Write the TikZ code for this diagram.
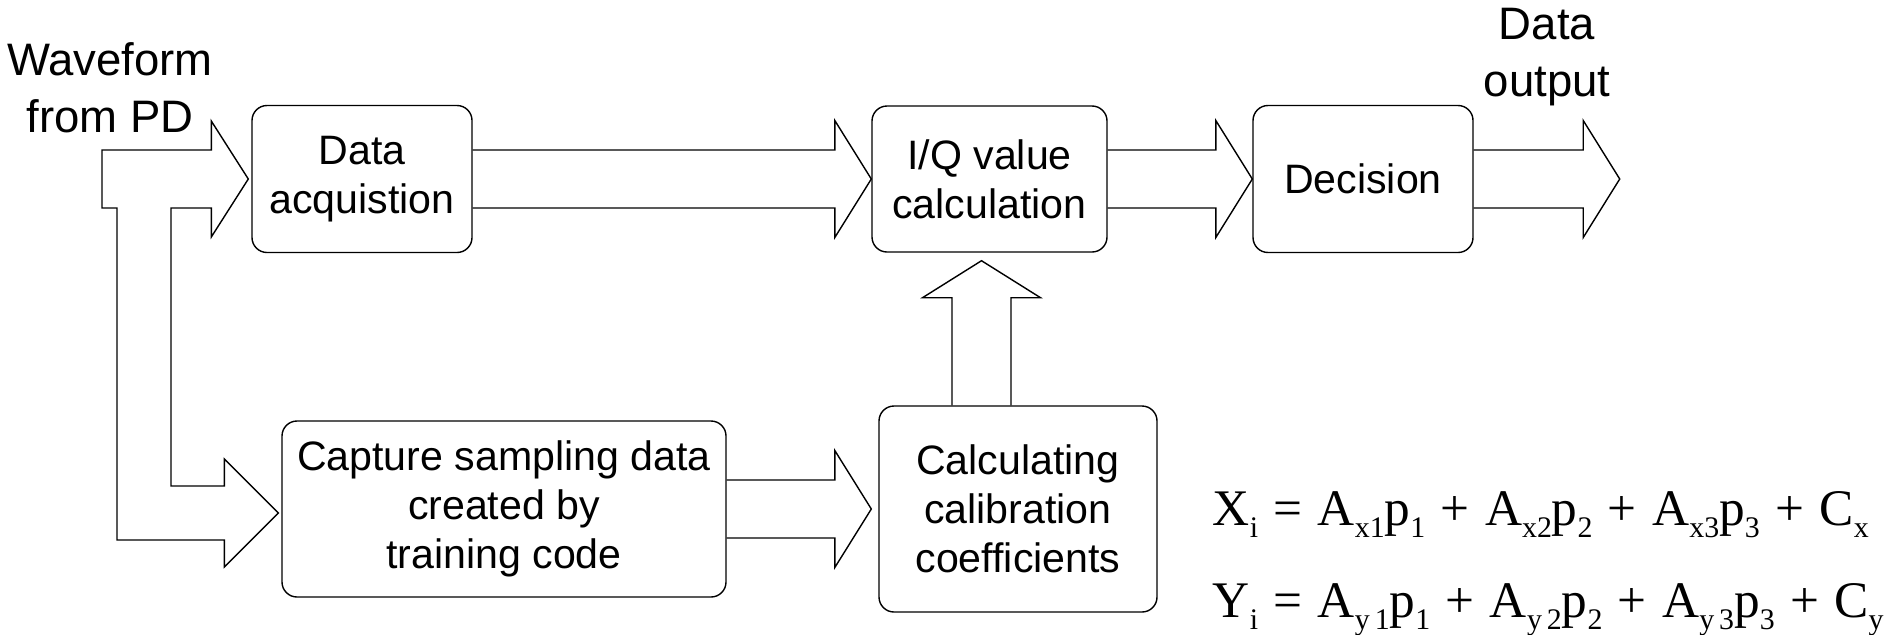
\documentclass[tikz,border=0pt]{standalone}
\usepackage{fontspec}
\setmainfont{Liberation Sans}
\newfontfamily\eqfont{Liberation Serif}
\usetikzlibrary{
	calc,
	positioning
}
\newcommand\sbs[1]{\raisebox{-0.25em}{\fontsize{8.5}{8.5}\selectfont #1}}
\newcommand\op[1]{\hspace{0.3em}#1\hspace{0.3em}}
\tikzset{
	line width=0.6pt,
	block/.style={
		draw,
		rounded corners=0.15cm,
		align=center,
		inner sep=0pt,
		font=\fontsize{11.7}{13.9}\selectfont
	},
	iotext/.style={
		align=center,
		inner sep=0pt,
		font=\fontsize{12.95}{16.2}\selectfont
	},
	eq/.style={
		inner sep=0pt,
		anchor=base west,
		font=\eqfont\fontsize{14.6}{14.6}\selectfont
	},
	fat/.style={
		to path={let \p1=(\tikztostart), \p2=(\tikztotarget) in
			(\x1,\y1+0.29cm) -- (\x2-0.365cm,\y1+0.29cm) -- (\x2-0.365cm,\y1+0.585cm)
			-- (\x2,\y1) -- (\x2-0.365cm,\y1-0.585cm) -- (\x2-0.365cm,\y1-0.29cm) -- (\x1,\y1-0.29cm)}
	},
	fatup/.style={
		to path={let \p1=(\tikztostart), \p2=(\tikztotarget) in
			(\x1-0.295cm,\y1) -- (\x1-0.295cm,\y2-0.37cm) -- (\x1-0.59cm,\y2-0.37cm)
			-- (\x1,\y2) -- (\x1+0.59cm,\y2-0.37cm) -- (\x1+0.295cm,\y2-0.37cm) -- (\x1+0.295cm,\y1)}
	}
}

\begin{document}
\begin{tikzpicture}
	\useasboundingbox (0,0) rectangle (18.86,6.34);
	\draw
		node[block,minimum width=2.2cm,minimum height=1.47cm]  (acq) at (3.62,4.55)  {Data\\acquistion}
		node[block,minimum width=2.35cm,minimum height=1.46cm] (iq)  at (9.895,4.55) {I/Q value\\calculation}
		node[block,minimum width=2.2cm,minimum height=1.47cm]  (dec) at (13.63,4.55) {Decision}
		node[block,minimum width=4.44cm,minimum height=1.76cm] (cap) at (5.04,1.25)  {Capture sampling data\\created by\\training code}
		node[block,minimum width=2.78cm,minimum height=2.06cm] (cal) at (10.18,1.25) {Calculating\\calibration\\coefficients}
		
		(acq.east) edge[fat] (iq.west)
		(iq.east)  edge[fat] (dec.west)
		(dec.east) edge[fat] ($(dec.east)+(1.46cm,0)$)
		(cap.east) edge[fat] ([xshift=-0.07cm]cal.west)
		([xshift=-0.365cm]cal.north) edge[fatup] ([yshift=-0.08cm]iq.south)
	;
	
	% input from the photodiode, split into both paths
	\coordinate (pd) at (1.02,4.55);
	\draw let \p0=(pd), \p1=([xshift=-0.03cm]acq.west), \p2=([xshift=-0.03cm,yshift=-0.04cm]cap.west) in
		(\x0,\y1+0.29cm) -- (\x1-0.37cm,\y1+0.29cm) -- (\x1-0.37cm,\y1+0.58cm) -- (\p1)
		-- (\x1-0.37cm,\y1-0.58cm) -- (\x1-0.37cm,\y1-0.29cm) -- (\x0+0.69cm,\y1-0.29cm)
		-- (\x0+0.69cm,\y2+0.27cm) -- (\x2-0.54cm,\y2+0.27cm) -- (\x2-0.54cm,\y2+0.54cm) -- (\p2)
		-- (\x2-0.54cm,\y2-0.54cm) -- (\x2-0.54cm,\y2-0.27cm) -- (\x0+0.15cm,\y2-0.27cm)
		-- (\x0+0.15cm,\y1-0.29cm) -- (\x0,\y1-0.29cm) -- cycle;
	
	\node[iotext] (pdtext)  at (1.10,5.46)  {Waveform\\from PD};
	\node[iotext] (outtext) at (15.47,5.77) {Data\\output};
	
	\node[eq] (eqx) at (12.12,1.09) {X\sbs{i}\op{=}A\sbs{x1}p\sbs{1}\op{+}A\sbs{x2}p\sbs{2}\op{+}A\sbs{x3}p\sbs{3}\op{+}C\sbs{x}};
	\node[eq] (eqy) at (12.12,0.17) {Y\sbs{i}\op{=}A\sbs{y\,1}p\sbs{1}\op{+}A\sbs{y\,2}p\sbs{2}\op{+}A\sbs{y\,3}p\sbs{3}\op{+}C\sbs{y}};
\end{tikzpicture}
\end{document}
